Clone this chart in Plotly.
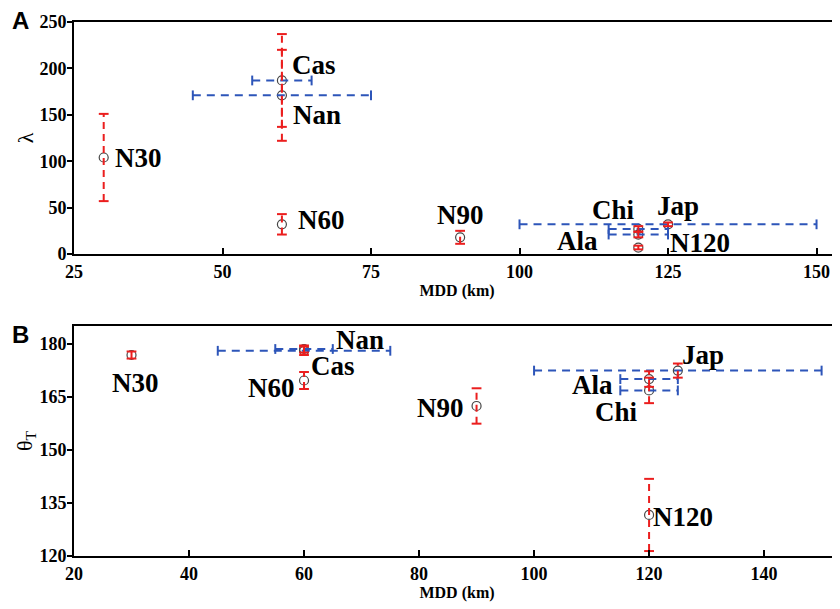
import plotly.graph_objects as go

# ---- data ----
names = ["N30", "N60", "N90", "N120", "Cas", "Nan", "Chi", "Ala", "Jap"]
mdd = [30, 60, 90, 120, 60, 60, 120, 120, 125]
mdd_err = [0, 0, 0, 0, 5, 15, 5, 5, 25]
lam = [104, 32, 18, 7, 187, 171, 27, 21, 32]
lam_err = [47, 11, 7, 2, 50, 49, 3, 3, 2]
theta = [176.8, 169.6, 162.4, 131.6, 178.5, 178.0, 166.8, 170.0, 172.4]
theta_err = [1.0, 2.4, 5.0, 10.2, 1.0, 1.2, 3.6, 2.2, 2.0]

lam_ticks = [0, 50, 100, 150, 200, 250]
theta_ticks = [120, 135, 150, 165, 180]
xA_ticks = [25, 50, 75, 100, 125, 150]
xB_ticks = [20, 40, 60, 80, 100, 120, 140]

# ---- label placement (data coords, anchor) ----
labA = {
    "N30": (31.5, 104, "left"), "Cas": (61.3, 204, "left"), "Nan": (61.6, 150, "left"),
    "N60": (62.4, 37, "left"), "N90": (90, 42, "center"), "Chi": (115.9, 47, "center"),
    "Jap": (126.7, 52, "center"), "Ala": (109.8, 14, "center"), "N120": (130.4, 12, "center"),
}
labB = {
    "N30": (30.7, 169, "center"), "N60": (54.4, 167.5, "center"), "Cas": (65.0, 173.6, "center"),
    "Nan": (69.7, 181.1, "center"), "N90": (83.7, 161.9, "center"), "Jap": (129.4, 176.9, "center"),
    "Ala": (110.1, 168.4, "center"), "Chi": (114.3, 160.8, "center"), "N120": (125.9, 131.1, "center"),
}

RED = "rgb(235,30,30)"
BLUE = "rgb(45,85,185)"
SERIF = "Liberation Serif"

fig = go.Figure()


def add_panel(xs, xe, ys, ye, xa, ya):
    # markers
    fig.add_trace(go.Scatter(x=xs, y=ys, mode="markers", xaxis=xa, yaxis=ya,
                             marker=dict(symbol="circle-open", size=9, color="rgb(70,70,70)",
                                         line=dict(width=1.2)),
                             showlegend=False, hoverinfo="skip"))
    # horizontal (blue) error bars
    hx, hy, cx, cy = [], [], [], []
    for x, e, y in zip(xs, xe, ys):
        if e > 0:
            hx += [x - e, x + e, None]
            hy += [y, y, None]
            cx += [x - e, x + e]
            cy += [y, y]
    fig.add_trace(go.Scatter(x=hx, y=hy, mode="lines", xaxis=xa, yaxis=ya,
                             line=dict(color=BLUE, width=2, dash="8px,6px"),
                             showlegend=False, hoverinfo="skip"))
    fig.add_trace(go.Scatter(x=cx, y=cy, mode="markers", xaxis=xa, yaxis=ya,
                             marker=dict(symbol="line-ns", size=7, line=dict(color=BLUE, width=2)),
                             showlegend=False, hoverinfo="skip"))
    # vertical (red) error bars
    vx, vy, rx, ry = [], [], [], []
    for x, y, e in zip(xs, ys, ye):
        vx += [x, x, None]
        vy += [y - e, y + e, None]
        rx += [x, x]
        ry += [y - e, y + e]
    fig.add_trace(go.Scatter(x=vx, y=vy, mode="lines", xaxis=xa, yaxis=ya,
                             line=dict(color=RED, width=2, dash="7px,5px"),
                             showlegend=False, hoverinfo="skip"))
    fig.add_trace(go.Scatter(x=rx, y=ry, mode="markers", xaxis=xa, yaxis=ya,
                             marker=dict(symbol="line-ew", size=7, line=dict(color=RED, width=2)),
                             showlegend=False, hoverinfo="skip"))


add_panel(mdd, mdd_err, lam, lam_err, "x", "y")
add_panel(mdd, mdd_err, theta, theta_err, "x2", "y2")

lab_font = dict(family=SERIF, size=27, color="black", weight="bold")
for n in names:
    x, y, anc = labA[n]
    fig.add_annotation(x=x, y=y, xref="x", yref="y", text=n, showarrow=False,
                       xanchor=anc, yanchor="middle", font=lab_font)
    x, y, anc = labB[n]
    fig.add_annotation(x=x, y=y, xref="x2", yref="y2", text=n, showarrow=False,
                       xanchor=anc, yanchor="middle", font=lab_font)

panel_font = dict(family="Liberation Sans", size=24, color="black", weight="bold")
fig.add_annotation(x=-0.084, y=1.002, xref="paper", yref="paper", text="A", showarrow=False,
                   xanchor="left", yanchor="middle", font=panel_font)
fig.add_annotation(x=-0.084, y=0.414, xref="paper", yref="paper", text="B", showarrow=False,
                   xanchor="left", yanchor="middle", font=panel_font)

tickfont = dict(family=SERIF, size=18, color="black", weight="bold")
titlefont = dict(family=SERIF, size=16, color="black", weight="bold")
axcommon = dict(showline=True, linecolor="black", linewidth=2, showgrid=False, zeroline=False,
                tickfont=tickfont, tickcolor="black", tickwidth=1.5)

# page body has an 8px default margin: size the figure so the plot lands where the reference has it
fig.update_layout(
    width=832, height=601,
    margin=dict(l=66, r=0, t=14, b=53),
    plot_bgcolor="white", paper_bgcolor="white",
    xaxis=dict(domain=[0, 1], anchor="y", range=[25, 153.95], tickvals=xA_ticks,
               ticks="inside", ticklen=6, mirror=True,
               title=dict(text="MDD (km)", font=titlefont, standoff=4), **axcommon),
    yaxis=dict(domain=[0.5655, 1], anchor="x", range=[0, 250], tickvals=lam_ticks,
               ticks="outside", ticklen=5, ticklabelstandoff=-3,
               title=dict(text="λ", font=dict(family=SERIF, size=22, color="black"), standoff=0),
               **axcommon),
    xaxis2=dict(domain=[0, 1], anchor="y2", range=[20, 153.2], tickvals=xB_ticks,
                ticks="inside", ticklen=6, mirror=True,
                title=dict(text="MDD (km)", font=titlefont, standoff=4), **axcommon),
    yaxis2=dict(domain=[0, 0.4307], anchor="x2", range=[120, 185], tickvals=theta_ticks,
                ticks="outside", ticklen=5, ticklabelstandoff=-3,
                title=dict(text="θ<sub>T</sub>", font=dict(family=SERIF, size=22, color="black"),
                           standoff=0),
                **axcommon),
)

fig.write_html("out.html")
